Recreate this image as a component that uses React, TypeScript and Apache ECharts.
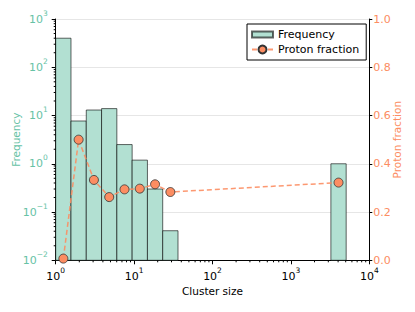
import React, { useEffect, useRef } from "react";
import * as echarts from "echarts";

// Histogram bins (log-spaced), lower and upper edges
const binLo = [1.0, 1.567, 2.455, 3.846, 6.026, 9.441, 14.79, 23.17, 3236];
const binHi = [1.567, 2.455, 3.846, 6.026, 9.441, 14.79, 23.17, 36.31, 5070];
const frequency = [400, 7.7, 13, 13.9, 2.5, 1.19, 0.3, 0.041, 1.0];
// Proton fraction at bin geometric centres
const binCenter = [1.252, 1.961, 3.073, 4.814, 7.543, 11.82, 18.51, 29.0, 4051];
const protonFraction = [0.007, 0.5, 0.333, 0.262, 0.294, 0.297, 0.315, 0.283, 0.322];

const GREEN = "#66c2a5";
const ORANGE = "#fc8d62";
const FONT = "DejaVu Sans";

function minorTicks(lo: number, hi: number): number[] {
  const out: number[] = [];
  for (let e = lo; e < hi; e++) {
    for (let m = 2; m <= 9; m++) out.push(m * Math.pow(10, e));
  }
  return out;
}

function supLabel(color: string) {
  return {
    formatter: (v: number) => {
      const e = Math.round(Math.log10(v));
      const s = e < 0 ? "\u2212" + -e : String(e);
      return `{b|10}{s|${s}}`;
    },
    rich: {
      b: { fontSize: 11, color, fontFamily: FONT, lineHeight: 20 },
      s: { fontSize: 7.5, color, fontFamily: FONT, lineHeight: 8, verticalAlign: "top" },
    },
  };
}

export default function App() {
  const ref = useRef<HTMLDivElement>(null);
  useEffect(() => {
    const chart = echarts.init(ref.current!, null, { renderer: "svg" });
    const barData = binLo.map((lo, i) => [lo, binHi[i], frequency[i]]);
    const lineData = binCenter.map((x, i) => [x, protonFraction[i]]);
    const xMinor = minorTicks(0, 4).map((v) => [v, 1]);
    const yMinor = minorTicks(-2, 3).map((v) => [1, v]);

    chart.setOption({
      animation: false,
      textStyle: { fontFamily: FONT },
      grid: {
        left: 55.7,
        right: 45.7,
        top: 19,
        bottom: 51.7,
        containLabel: false,
        outerBoundsMode: "none",
      },
      legend: {
        orient: "vertical",
        left: 247,
        top: 24,
        padding: [5, 7, 5, 4],
        itemGap: 4,
        itemWidth: 21,
        itemHeight: 10,
        itemTextGap: 9,
        borderColor: "#000",
        borderWidth: 1,
        borderRadius: 0,
        backgroundColor: "#fff",
        textStyle: { fontSize: 11, color: "#000", fontFamily: FONT },
        data: [
          { name: "Frequency", icon: "path://M0,0 L21,0 L21,6 L0,6 Z" },
          { name: "Proton fraction" },
        ],
      },
      xAxis: {
        type: "log",
        logBase: 10,
        min: 1,
        max: 10000,
        name: "Cluster size",
        nameLocation: "middle",
        nameGap: 25,
        nameMoveOverlap: false,
        nameTextStyle: { fontSize: 10.5, color: "#000", fontFamily: FONT },
        axisLine: { show: true, lineStyle: { color: "#000", width: 1 } },
        axisTick: { show: true, length: 4, lineStyle: { color: "#000" } },
        axisLabel: { margin: 6, ...supLabel("#000") },
        splitLine: { show: false },
      },
      yAxis: [
        {
          type: "log",
          logBase: 10,
          min: 0.01,
          max: 1000,
          name: "Frequency",
          nameLocation: "middle",
          nameGap: 34,
          nameMoveOverlap: false,
          nameRotate: 90,
          nameTextStyle: { fontSize: 10.5, color: GREEN, fontFamily: FONT },
          axisLine: { show: true, lineStyle: { color: "#000", width: 1 } },
          axisTick: { show: true, length: 4, lineStyle: { color: "#000" } },
          axisLabel: { margin: 8, ...supLabel(GREEN) },
          splitLine: { show: true, lineStyle: { color: "#e6e6e6", width: 1 } },
        },
        {
          type: "value",
          min: 0,
          max: 1,
          interval: 0.2,
          position: "right",
          name: "Proton fraction",
          nameLocation: "middle",
          nameGap: 22,
          nameMoveOverlap: false,
          nameRotate: 90,
          nameTextStyle: { fontSize: 10.5, color: ORANGE, fontFamily: FONT },
          axisLine: { show: true, lineStyle: { color: "#000", width: 1 } },
          axisTick: { show: true, length: 3, lineStyle: { color: "#000" } },
          axisLabel: {
            margin: 4,
            fontSize: 11,
            color: ORANGE,
            fontFamily: FONT,
            formatter: (v: number) => v.toFixed(1),
          },
          splitLine: { show: false },
        },
      ],
      series: [
        {
          name: "Frequency",
          type: "custom",
          xAxisIndex: 0,
          yAxisIndex: 0,
          encode: { x: [0, 1], y: 2 },
          itemStyle: { color: "#b2e0d2", borderColor: "rgba(0,0,0,0.6)", borderWidth: 1 },
          renderItem: (params: any, api: any) => {
            const p0 = api.coord([api.value(0), api.value(2)]);
            const p1 = api.coord([api.value(1), 0.01]);
            return {
              type: "rect",
              shape: { x: p0[0], y: p0[1], width: p1[0] - p0[0], height: p1[1] - p0[1] },
              style: { fill: "#b2e0d2", stroke: "rgba(0,0,0,0.6)", lineWidth: 1 },
            };
          },
          data: barData,
          z: 2,
        },
        {
          name: "Proton fraction",
          type: "line",
          xAxisIndex: 0,
          yAxisIndex: 1,
          data: lineData,
          symbol: "circle",
          symbolSize: 9,
          lineStyle: { color: ORANGE, width: 1.5, type: [5, 3], opacity: 0.9 },
          itemStyle: { color: ORANGE, borderColor: "#333", borderWidth: 0.8 },
          z: 5,
        },
        {
          name: "xminor",
          type: "custom",
          silent: true,
          xAxisIndex: 0,
          yAxisIndex: 0,
          encode: { x: 0, y: 1 },
          renderItem: (params: any, api: any) => {
            const x = api.coord([api.value(0), 1])[0];
            const y = params.coordSys.y + params.coordSys.height;
            return {
              type: "line",
              shape: { x1: x, y1: y, x2: x, y2: y + 2 },
              style: { stroke: "#000", lineWidth: 1 },
            };
          },
          data: xMinor,
          z: 6,
        },
        {
          name: "yminor",
          type: "custom",
          silent: true,
          xAxisIndex: 0,
          yAxisIndex: 0,
          encode: { x: 0, y: 1 },
          renderItem: (params: any, api: any) => {
            const y = api.coord([1, api.value(1)])[1];
            const x = params.coordSys.x;
            return {
              type: "line",
              shape: { x1: x - 2, y1: y, x2: x, y2: y },
              style: { stroke: "#000", lineWidth: 1 },
            };
          },
          data: yMinor,
          z: 6,
        },
      ],
    });
    return () => chart.dispose();
  }, []);
  return (
    <div
      ref={ref}
      style={{ position: "fixed", left: 0, top: 0, width: 415, height: 312, background: "#fff" }}
    />
  );
}
